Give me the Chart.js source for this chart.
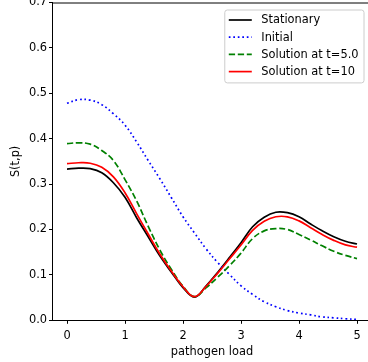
<!DOCTYPE html>
<html><head><meta charset="utf-8">
<script src="https://cdn.jsdelivr.net/npm/chart.js@4.4.0/dist/chart.umd.min.js"></script>
<style>
html,body{margin:0;padding:0;background:#fff;overflow:hidden;width:368px;height:362px;}
#wrap{position:relative;width:368px;height:362px;overflow:hidden;background:#fff;}
#c{position:absolute;left:0;top:-20px;}
</style></head><body>
<div id="wrap"><canvas id="c" width="400" height="382"></canvas></div>
<script>
// ---- data ----
const pathogenLoad = [0,0.2,0.4,0.6,0.8,1,1.2,1.4,1.6,1.8,2,2.2,2.4,2.6,2.8,3,3.2,3.4,3.6,3.8,4,4.2,4.4,4.6,4.8,5];
const stationary   = [0.333,0.335,0.334,0.325,0.303,0.271,0.226,0.184,0.142,0.106,0.072,0.051,0.076,0.106,0.138,0.171,0.206,0.227,0.238,0.237,0.228,0.212,0.197,0.184,0.174,0.168];
const initial      = [0.478,0.486,0.485,0.475,0.455,0.430,0.393,0.352,0.312,0.270,0.228,0.192,0.157,0.127,0.101,0.076,0.057,0.041,0.030,0.0215,0.016,0.012,0.0075,0.0055,0.0035,0.002];
const solutionT5   = [0.389,0.391,0.388,0.374,0.352,0.310,0.263,0.207,0.155,0.112,0.075,0.052,0.072,0.095,0.120,0.148,0.180,0.197,0.202,0.200,0.189,0.177,0.164,0.152,0.143,0.136];
const solutionT10  = [0.345,0.347,0.346,0.337,0.316,0.281,0.235,0.190,0.146,0.108,0.074,0.052,0.075,0.104,0.135,0.166,0.198,0.218,0.228,0.228,0.219,0.204,0.189,0.176,0.166,0.161];
const seriesLabels = ['Stationary','Initial','Solution at t=5.0','Solution at t=10'];
const xTickValues  = [0,1,2,3,4,5];
const yTickValues  = [0,0.1,0.2,0.3,0.4,0.5,0.6,0.7];
const xAxisTitle = 'pathogen load';
const yAxisTitle = 'S(t,p)';

const FONT = 'DejaVu Sans';
const FS = 11.4;
const LW = 1.7;
Chart.defaults.font.family = FONT;
Chart.defaults.font.size = FS;
Chart.defaults.color = '#000';

const toPts = (ys) => ys.map((y, i) => ({x: pathogenLoad[i], y}));

const spines = {
  id: 'spines',
  afterDatasetsDraw(chart) {
    const {ctx, chartArea: a} = chart;
    ctx.save();
    ctx.strokeStyle = '#000';
    ctx.lineWidth = 1;
    ctx.beginPath();
    ctx.moveTo(a.left, a.top + 0.5);
    ctx.lineTo(a.right, a.top + 0.5);
    ctx.lineTo(a.right, a.bottom);
    ctx.stroke();
    ctx.restore();
  }
};

const mplLegend = {
  id: 'mplLegend',
  afterDatasetsDraw(chart) {
    const {ctx, chartArea: a} = chart;
    const ds = chart.data.datasets;
    ctx.save();
    ctx.font = FS + 'px "' + FONT + '"';
    let tw = 0;
    ds.forEach(d => { tw = Math.max(tw, ctx.measureText(d.label).width); });
    const pad = 4, handle = 23, gap = 9.5, rpad = 5.5, rowH = 17.2;
    const w = pad + handle + gap + tw + rpad;
    const right = a.right - 7.5, top = a.top + 7.5;
    const left = right - w;
    const h = 10 + rowH * (ds.length - 1) + 11.3;
    const r = 2.5;
    ctx.beginPath();
    ctx.moveTo(left + r, top);
    ctx.lineTo(left + w - r, top);
    ctx.quadraticCurveTo(left + w, top, left + w, top + r);
    ctx.lineTo(left + w, top + h - r);
    ctx.quadraticCurveTo(left + w, top + h, left + w - r, top + h);
    ctx.lineTo(left + r, top + h);
    ctx.quadraticCurveTo(left, top + h, left, top + h - r);
    ctx.lineTo(left, top + r);
    ctx.quadraticCurveTo(left, top, left + r, top);
    ctx.closePath();
    ctx.fillStyle = 'rgba(255,255,255,0.8)';
    ctx.fill();
    ctx.strokeStyle = '#cccccc';
    ctx.lineWidth = 1;
    ctx.stroke();
    ds.forEach((d, i) => {
      const y = top + 10 + i * rowH;
      ctx.beginPath();
      ctx.setLineDash(d.borderDash || []);
      ctx.lineWidth = d.borderWidth;
      ctx.strokeStyle = d.borderColor;
      ctx.moveTo(left + pad, y);
      ctx.lineTo(left + pad + handle, y);
      ctx.stroke();
      ctx.setLineDash([]);
      ctx.fillStyle = '#000';
      ctx.textBaseline = 'middle';
      ctx.textAlign = 'left';
      ctx.fillText(d.label, left + pad + handle + gap, y + 0.5);
    });
    ctx.restore();
  }
};

const common = {pointRadius: 0, borderWidth: LW, fill: false, tension: 0.4};

new Chart(document.getElementById('c'), {
  type: 'line',
  data: {
    datasets: [
      {...common, label: seriesLabels[0], data: toPts(stationary), borderColor: '#000000', order: 3},
      {...common, label: seriesLabels[1], data: toPts(initial), borderColor: '#0000ff', borderDash: [1.7, 2.8], order: 2},
      {...common, label: seriesLabels[2], data: toPts(solutionT5), borderColor: '#008000', borderDash: [6.3, 2.7], order: 1},
      {...common, label: seriesLabels[3], data: toPts(solutionT10), borderColor: '#ff0000', order: 0}
    ]
  },
  options: {
    responsive: false,
    animation: false,
    devicePixelRatio: 1,
    layout: {padding: {top: 22.5, right: 28.5, bottom: 0, left: 0}},
    plugins: {legend: {display: false}, tooltip: {enabled: false}},
    scales: {
      x: {
        type: 'linear', min: -0.25, max: 5.25,
        afterBuildTicks: (s) => { s.ticks = xTickValues.map(v => ({value: v})); },
        afterFit: (s) => { s.height = 41.7; },
        ticks: {padding: 5, color: '#000', font: {size: FS}, maxRotation: 0, callback: (v) => String(v)},
        grid: {drawOnChartArea: false, drawTicks: true, tickLength: 3.5, color: '#000', tickWidth: 1},
        border: {display: true, color: '#000', width: 1},
        title: {display: true, text: xAxisTitle, color: '#000', font: {size: FS}, padding: {top: 0, bottom: 3.2}}
      },
      y: {
        type: 'linear', min: 0, max: 0.7,
        afterBuildTicks: (s) => { s.ticks = yTickValues.map(v => ({value: v})); },
        afterFit: (s) => { s.width = 52.5; },
        ticks: {padding: 2, color: '#000', font: {size: FS}, callback: (v) => Number(v).toFixed(1)},
        grid: {drawOnChartArea: false, drawTicks: true, tickLength: 3.5, color: '#000', tickWidth: 1},
        border: {display: true, color: '#000', width: 1},
        title: {display: true, text: yAxisTitle, color: '#000', font: {size: FS}, padding: {top: 9, bottom: 0}}
      }
    }
  },
  plugins: [spines, mplLegend]
});
</script>
</body></html>
